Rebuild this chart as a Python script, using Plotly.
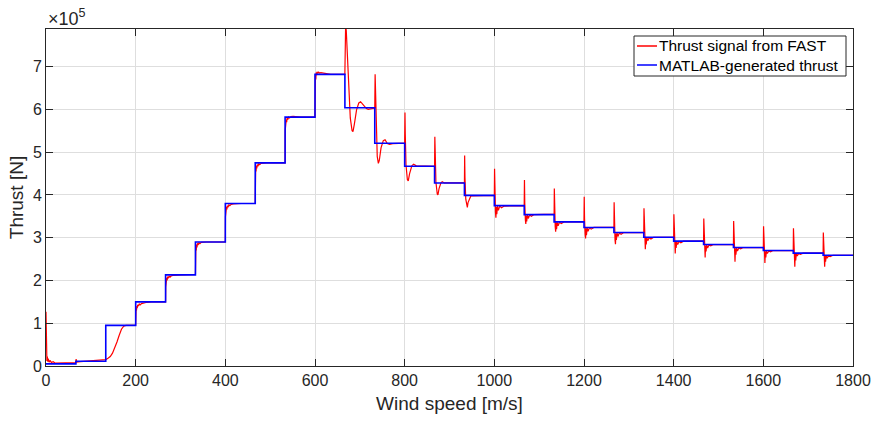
import plotly.graph_objects as go

# ---------------- data ----------------
step_starts = [0, 66.7, 133.3, 200, 266.7, 333.3, 400, 466.7, 533.3, 600, 666.7, 733.3,
               800, 866.7, 933.3, 1000, 1066.7, 1133.3, 1200, 1266.7, 1333.3, 1400,
               1466.7, 1533.3, 1600, 1666.7, 1733.3, 1800]
# MATLAB-generated thrust levels (x1e5 N) for each step
blue_levels = [0.05, 0.11, 0.95, 1.50, 2.13, 2.90, 3.80, 4.75, 5.82, 6.82, 6.04, 5.21,
               4.67, 4.28, 3.99, 3.75, 3.54, 3.37, 3.24, 3.12, 3.01, 2.92, 2.84, 2.77,
               2.70, 2.64, 2.59]

# FAST thrust signal, read per step as (time offset from step start [s], value x1e5 N)
red_segments = [
    [(0, 1.27), (0.3, 0.9), (0.6, 0.35), (1, 0.18), (1.5, 0.3), (2, 0.12), (3, 0.22), (4, 0.1),
     (5, 0.17), (7, 0.09), (9, 0.13), (12, 0.08), (16, 0.1), (20, 0.07), (40, 0.07), (66.7, 0.08)],
    [(0, 0.08), (0.5, 0.16), (1.5, 0.09), (10, 0.1), (30, 0.12), (50, 0.14), (66.6, 0.15)],
    [(0, 0.15), (5, 0.18), (10, 0.22), (15, 0.3), (20, 0.42), (25, 0.56), (30, 0.72), (35, 0.86),
     (40, 0.93), (45, 0.95), (66.6, 0.955)],
    [(0, 0.955), (0.3, 1.23), (1, 1.36), (1.8, 1.30), (2.6, 1.40), (3.5, 1.35), (4.5, 1.43), (6, 1.40),
     (8, 1.45), (10, 1.43), (13, 1.46), (18, 1.48), (25, 1.49), (35, 1.50), (66.6, 1.50)],
    [(0, 1.50), (0.3, 1.85), (1, 2.02), (1.8, 1.94), (2.6, 2.06), (3.5, 2.00), (4.5, 2.09), (6, 2.05),
     (8, 2.10), (10, 2.08), (13, 2.11), (18, 2.12), (25, 2.13), (35, 2.13), (66.6, 2.14)],
    [(0, 2.14), (0.3, 2.59), (1, 2.80), (1.8, 2.70), (2.6, 2.84), (3.5, 2.77), (4.5, 2.87), (6, 2.83),
     (8, 2.88), (10, 2.86), (13, 2.89), (18, 2.90), (25, 2.90), (35, 2.90), (66.6, 2.90)],
    [(0, 2.90), (0.3, 3.49), (1, 3.68), (1.8, 3.58), (2.6, 3.72), (3.5, 3.66), (4.5, 3.75), (6, 3.71),
     (8, 3.77), (10, 3.75), (13, 3.78), (18, 3.79), (25, 3.80), (35, 3.80), (66.6, 3.80)],
    [(0, 3.80), (0.3, 4.47), (1, 4.65), (1.8, 4.55), (2.6, 4.68), (3.5, 4.62), (4.5, 4.71), (6, 4.67),
     (8, 4.73), (10, 4.71), (13, 4.74), (18, 4.75), (25, 4.75), (35, 4.75), (66.6, 4.75)],
    [(0, 4.75), (0.3, 5.52), (1, 5.72), (1.8, 5.62), (2.6, 5.76), (3.5, 5.70), (4.5, 5.80), (6, 5.76),
     (8, 5.82), (10, 5.80), (13, 5.83), (18, 5.84), (25, 5.83), (35, 5.82), (66.6, 5.82)],
    [(0, 5.82), (0.3, 6.61), (1, 6.80), (1.8, 6.70), (2.6, 6.86), (3.5, 6.80), (4.5, 6.88), (6, 6.84),
     (8, 6.87), (10, 6.85), (13, 6.86), (18, 6.85), (25, 6.83), (35, 6.82), (66.6, 6.82)],
    [(0, 6.82), (0.8, 7.6), (1.6, 7.95), (3, 7.85), (5, 7.3), (8, 6.6), (12, 5.8), (16, 5.5),
     (18, 5.48), (21, 5.65), (26, 5.99), (31, 6.15), (35, 6.18), (40, 6.12), (44, 6.07), (48, 6.02),
     (52, 6.0), (58, 6.02), (66.6, 6.03)],
    [(0, 6.03), (0.8, 6.82), (1.5, 6.4), (3, 5.6), (5.5, 4.9), (8, 4.74), (10, 4.8), (14, 5.1),
     (19, 5.27), (23, 5.29), (28, 5.2), (33, 5.18), (40, 5.2), (66.6, 5.21)],
    [(0, 5.21), (0.7, 5.93), (1.4, 5.4), (3, 4.7), (6, 4.36), (8, 4.33), (11, 4.5), (16, 4.68),
     (20, 4.72), (26, 4.68), (66.6, 4.67)],
    [(0, 4.67), (0.6, 5.36), (1.3, 4.8), (3, 4.3), (6, 4.02), (7.5, 4.0), (10, 4.15), (14, 4.28),
     (17, 4.31), (22, 4.28), (66.6, 4.28)],
    [(0, 4.28), (0.5, 4.92), (1.2, 4.4), (3, 3.9), (5, 3.72), (6.5, 3.71), (8, 3.82), (11, 3.92),
     (14, 3.97), (18, 3.98), (66.6, 3.99)],
    [(0, 3.99), (0.5, 4.61), (1.2, 4.0), (2.5, 3.6), (3.5, 3.47), (4.5, 3.72), (5.5, 3.55), (7, 3.74),
     (9, 3.64), (12, 3.74), (16, 3.70), (22, 3.74), (66.6, 3.75)],
    [(0, 3.75), (0.5, 4.35), (1.2, 3.8), (2.5, 3.42), (3.5, 3.32), (4.5, 3.52), (5.5, 3.38), (7, 3.53),
     (9, 3.45), (12, 3.53), (16, 3.50), (22, 3.54), (66.6, 3.55)],
    [(0, 3.55), (0.5, 4.15), (1.2, 3.6), (2.5, 3.25), (3.5, 3.14), (4.5, 3.36), (5.5, 3.20), (7, 3.36),
     (9, 3.28), (12, 3.36), (16, 3.33), (22, 3.37), (66.6, 3.37)],
    [(0, 3.37), (0.5, 3.96), (1.2, 3.45), (2.5, 3.08), (3.5, 2.98), (4.5, 3.22), (5.5, 3.06), (7, 3.23),
     (9, 3.15), (12, 3.23), (16, 3.20), (22, 3.24), (66.6, 3.24)],
    [(0, 3.24), (0.5, 3.83), (1.2, 3.3), (2.5, 2.95), (3.5, 2.85), (4.5, 3.10), (5.5, 2.95), (7, 3.11),
     (9, 3.03), (12, 3.11), (16, 3.08), (22, 3.12), (66.6, 3.12)],
    [(0, 3.12), (0.5, 3.69), (1.2, 3.2), (2.5, 2.83), (3.5, 2.73), (4.5, 2.99), (5.5, 2.84), (7, 3.00),
     (9, 2.93), (12, 3.00), (16, 2.97), (22, 3.01), (66.6, 3.01)],
    [(0, 3.01), (0.5, 3.55), (1.2, 3.1), (2.5, 2.73), (3.5, 2.63), (4.5, 2.90), (5.5, 2.76), (7, 2.91),
     (9, 2.84), (12, 2.91), (16, 2.88), (22, 2.92), (66.6, 2.92)],
    [(0, 2.92), (0.5, 3.45), (1.2, 3.0), (2.5, 2.64), (3.5, 2.54), (4.5, 2.82), (5.5, 2.68), (7, 2.83),
     (9, 2.76), (12, 2.83), (16, 2.81), (22, 2.84), (66.6, 2.84)],
    [(0, 2.84), (0.5, 3.39), (1.2, 2.9), (2.5, 2.55), (3.5, 2.44), (4.5, 2.75), (5.5, 2.60), (7, 2.76),
     (9, 2.69), (12, 2.76), (16, 2.74), (22, 2.77), (66.6, 2.77)],
    [(0, 2.77), (0.5, 3.27), (1.2, 2.85), (2.5, 2.50), (3.5, 2.41), (4.5, 2.68), (5.5, 2.54), (7, 2.69),
     (9, 2.63), (12, 2.69), (16, 2.67), (22, 2.70), (66.6, 2.70)],
    [(0, 2.70), (0.5, 3.22), (1.2, 2.78), (2.5, 2.42), (3.5, 2.32), (4.5, 2.62), (5.5, 2.47), (7, 2.63),
     (9, 2.57), (12, 2.63), (16, 2.61), (22, 2.64), (66.6, 2.64)],
    [(0, 2.64), (0.5, 3.12), (1.2, 2.72), (2.5, 2.40), (3.5, 2.32), (4.5, 2.57), (5.5, 2.44), (7, 2.58),
     (9, 2.52), (12, 2.58), (16, 2.56), (22, 2.59), (66.6, 2.59)],
]

x_ticks = [0, 200, 400, 600, 800, 1000, 1200, 1400, 1600, 1800]
y_ticks = [0, 1, 2, 3, 4, 5, 6, 7]
y_tick_labels = ["0", "1", "2", "3", "4", "5", "6", "7"]
series_names = ["Thrust signal from FAST", "MATLAB-generated thrust"]
series_colors = ["#ff0000", "#0000ff"]
SCALE = 1e5

# ---------------- build traces ----------------
blue_x, blue_y = [], []
for i, lvl in enumerate(blue_levels):
    blue_x += [step_starts[i], step_starts[i + 1]]
    blue_y += [lvl * SCALE, lvl * SCALE]

red_x, red_y = [], []
for i, seg in enumerate(red_segments):
    for dt, v in seg:
        red_x.append(step_starts[i] + dt)
        red_y.append(v * SCALE)

FONT = "Liberation Sans, Arial, Helvetica, sans-serif"
TXT = "#262626"

fig = go.Figure()
fig.add_trace(go.Scatter(x=red_x, y=red_y, mode="lines", name=series_names[0],
                         line=dict(color=series_colors[0], width=1.2), showlegend=False))
fig.add_trace(go.Scatter(x=blue_x, y=blue_y, mode="lines", name=series_names[1],
                         line=dict(color=series_colors[1], width=1.6), showlegend=False))

axis_common = dict(showline=True, linecolor=TXT, linewidth=1, mirror="ticks",
                   ticks="inside", ticklen=7, tickcolor=TXT, tickwidth=1,
                   showgrid=True, gridcolor="#dedede", gridwidth=1, zeroline=False,
                   automargin=False,
                   tickfont=dict(family=FONT, size=16, color=TXT))

fig.update_xaxes(range=[0, 1800], tickvals=x_ticks,
                 title=dict(text="Wind speed [m/s]", font=dict(family=FONT, size=19, color=TXT),
                            standoff=8),
                 **axis_common)
fig.update_yaxes(range=[0, 7.88 * SCALE], tickvals=[t * SCALE for t in y_ticks],
                 ticktext=y_tick_labels,
                 title=dict(text="Thrust [N]", font=dict(family=FONT, size=19, color=TXT),
                            standoff=4),
                 **axis_common)

fig.add_annotation(text="×10<sup>5</sup>", xref="paper", yref="paper", x=0, y=1,
                   xanchor="left", yanchor="bottom", showarrow=False, yshift=-2,
                   font=dict(family=FONT, size=18, color=TXT))

# ---- legend box (MATLAB style, compact) ----
L, T, W, H = 46, 29, 807, 337
def px(xp):
    return (xp - L) / W
def py(yp):
    return (T + H - yp) / H

fig.add_shape(type="rect", xref="paper", yref="paper",
              x0=px(634), x1=px(846), y0=py(76), y1=py(36),
              line=dict(color=TXT, width=1), fillcolor="white", layer="above")
row_y = [46, 65]
for name, col, ry in zip(series_names, series_colors, row_y):
    fig.add_shape(type="line", xref="paper", yref="paper",
                  x0=px(637), x1=px(657), y0=py(ry), y1=py(ry),
                  line=dict(color=col, width=1.5), layer="above")
    fig.add_annotation(text=name, xref="paper", yref="paper", x=px(657), y=py(ry),
                       xanchor="left", yanchor="middle", showarrow=False,
                       font=dict(family=FONT, size=15.5, color="#000000"))

fig.update_layout(
    width=874, height=421,
    margin=dict(l=46, r=21, t=29, b=55),
    plot_bgcolor="white", paper_bgcolor="white",
    showlegend=False,
)

fig.write_html("out.html")
